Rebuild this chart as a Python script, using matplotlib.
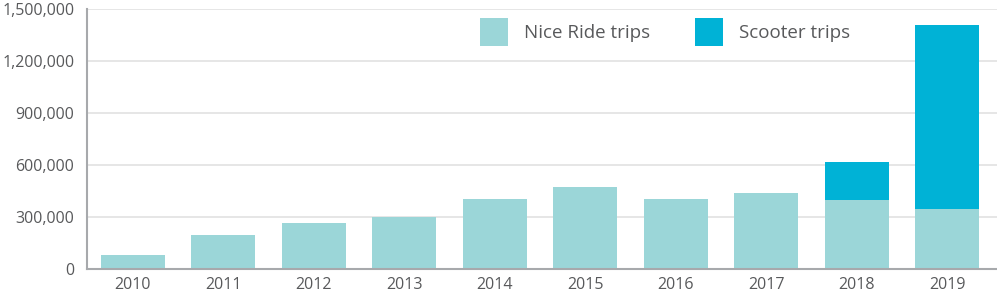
import matplotlib.pyplot as plt
from matplotlib.patches import Patch
from matplotlib.ticker import FuncFormatter

years = ['2010', '2011', '2012', '2013', '2014', '2015', '2016', '2017', '2018', '2019']
nice_ride = [79000, 195000, 265000, 300000, 405000, 475000, 405000, 441000, 401000, 348000]
scooter = [0, 0, 0, 0, 0, 0, 0, 0, 219000, 1059000]

c_nice = '#9bd6d8'
c_scoot = '#00b2d6'
txt = '#58595b'

plt.rcParams['font.family'] = ['Open Sans', 'DejaVu Sans']

fig = plt.figure(figsize=(9.97, 2.99), dpi=100)
ax = fig.add_axes([0.087, 0.1, 0.913, 0.869])

x = range(len(years))
ax.bar(x, nice_ride, width=0.71, color=c_nice, zorder=2)
ax.bar(x, scooter, width=0.71, bottom=nice_ride, color=c_scoot, zorder=2)

ax.set_xlim(-0.51, 9.55)
ax.set_ylim(0, 1500000)
ax.set_yticks([0, 300000, 600000, 900000, 1200000, 1500000])
ax.yaxis.set_major_formatter(FuncFormatter(lambda v, p: f'{int(v):,}'))
ax.set_xticks(list(x))
ax.set_xticklabels(years)
ax.grid(axis='y', color='#e2e2e2', linewidth=1.2, zorder=0)
ax.tick_params(length=0, labelsize=11.5, colors=txt)
ax.tick_params(axis='y', pad=9)
ax.tick_params(axis='x', pad=6)

for s in ['top', 'right']:
    ax.spines[s].set_visible(False)
for s in ['left', 'bottom']:
    ax.spines[s].set_color('#a7a9ac')
    ax.spines[s].set_linewidth(1.5)

handles = [Patch(facecolor=c_nice, label='Nice Ride trips'),
           Patch(facecolor=c_scoot, label='Scooter trips')]
leg = ax.legend(handles=handles, ncol=2, frameon=False, loc='upper left',
                bbox_to_anchor=(0.413, 1.03), fontsize=13.5, handlelength=1.5,
                handleheight=1.9, handletextpad=0.85, columnspacing=2.4)
for t in leg.get_texts():
    t.set_color(txt)

fig.savefig('out.png', dpi=100)
